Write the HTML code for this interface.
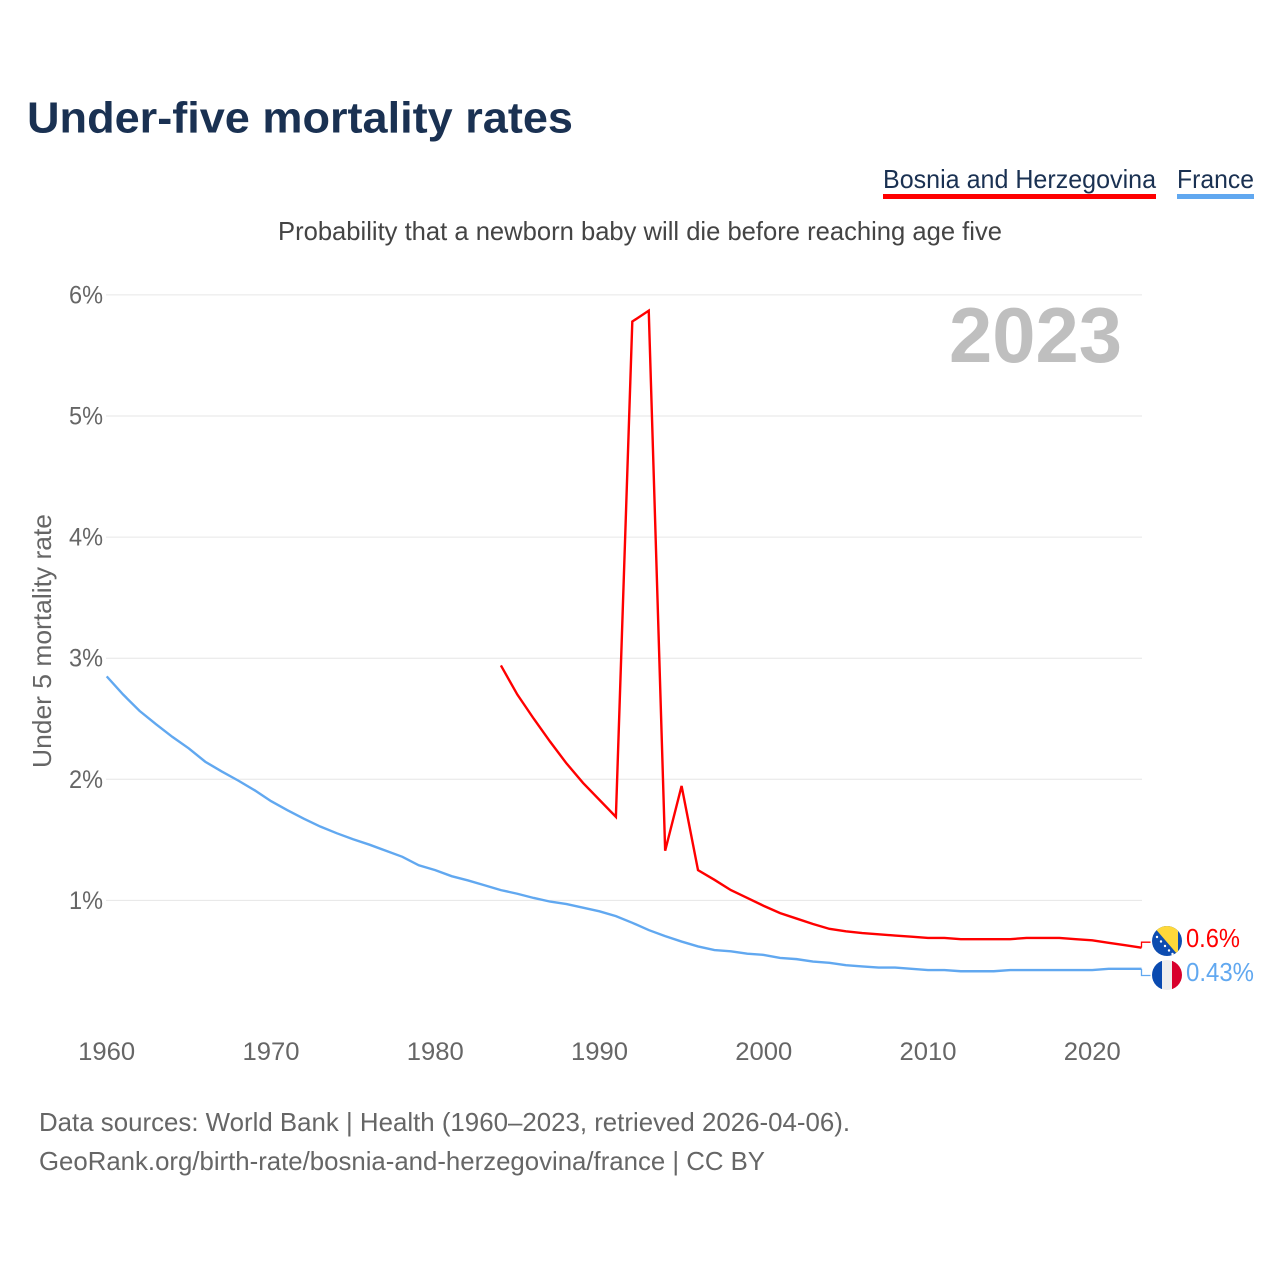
<!DOCTYPE html>
<html lang="en">
<head>
<meta charset="utf-8">
<title>Under-five mortality rates</title>
<style>
html,body{margin:0;padding:0;background:#fff;}
svg{display:block;font-family:"Liberation Sans",sans-serif;}
</style>
</head>
<body>
<svg id="chart" xmlns="http://www.w3.org/2000/svg" width="1280" height="1280" viewBox="0 0 1280 1280">
<rect x="0" y="0" width="1280" height="1280" fill="#fff"/>
<text x="27" y="132.500" font-size="44" font-weight="bold" fill="#1a3152" textLength="546" lengthAdjust="spacingAndGlyphs">Under-five mortality rates</text>
<g>
<text x="883" y="188" font-size="26" fill="#1a3152" textLength="273" lengthAdjust="spacingAndGlyphs">Bosnia and Herzegovina</text>
<rect x="883" y="194" width="273" height="5" fill="#ff0000"/>
</g>
<g>
<text x="1177" y="188" font-size="26" fill="#1a3152" textLength="77" lengthAdjust="spacingAndGlyphs">France</text>
<rect x="1177" y="194" width="77" height="5" fill="#61a8f0"/>
</g>
<text x="278" y="240" font-size="26" fill="#444" textLength="724" lengthAdjust="spacingAndGlyphs">Probability that a newborn baby will die before reaching age five</text>
<g id="grid"></g>
<text x="949" y="362" font-size="78" font-weight="bold" fill="#bfbfbf" textLength="173" lengthAdjust="spacingAndGlyphs">2023</text>
<g id="yticks"></g>
<g id="xticks"></g>
<text transform="translate(51,768) rotate(-90)" x="0" y="0" font-size="26" fill="#666" textLength="254" lengthAdjust="spacingAndGlyphs">Under 5 mortality rate</text>
<g id="series"></g>
<defs>
<clipPath id="clip-ba"><circle cx="1167" cy="941" r="15"/></clipPath>
<clipPath id="clip-fr"><circle cx="1167" cy="975" r="15"/></clipPath>
</defs>
<g clip-path="url(#clip-ba)">
<rect x="1152" y="926" width="30" height="30" fill="#0e4db0"/>
<polygon points="1153,926 1178,926 1178,955" fill="#fed83a"/>
<g fill="#fff">
<circle cx="1157" cy="937" r="1.200"/><circle cx="1161" cy="941.500" r="1.200"/><circle cx="1165" cy="946" r="1.200"/><circle cx="1169" cy="950.500" r="1.200"/><circle cx="1172.500" cy="954" r="1.200"/>
</g>
</g>
<g clip-path="url(#clip-fr)">
<rect x="1152" y="960" width="10" height="30" fill="#0a4ab0"/>
<rect x="1162" y="960" width="10" height="30" fill="#eeeeee"/>
<rect x="1172" y="960" width="10" height="30" fill="#d8002c"/>
</g>
<text x="1186" y="947" font-size="26" fill="#ff0000" textLength="54" lengthAdjust="spacingAndGlyphs">0.6%</text>
<text x="1186" y="981" font-size="26" fill="#61a8f0" textLength="68" lengthAdjust="spacingAndGlyphs">0.43%</text>
<g>
<text x="39" y="1131" font-size="26" fill="#666" textLength="811" lengthAdjust="spacingAndGlyphs">Data sources: World Bank | Health (1960–2023, retrieved 2026-04-06).</text>
<text x="39" y="1170" font-size="26" fill="#666" textLength="726" lengthAdjust="spacingAndGlyphs">GeoRank.org/birth-rate/bosnia-and-herzegovina/france | CC BY</text>
</g>
</svg>
<script>
const yTickValues = [1, 2, 3, 4, 5, 6];
const xTickYears = [1960, 1970, 1980, 1990, 2000, 2010, 2020];
const franceStartYear = 1960;
const franceValues = [2.85,2.70,2.565,2.455,2.35,2.255,2.145,2.065,1.99,1.91,1.82,1.745,1.675,1.61,1.555,1.505,1.46,1.41,1.36,1.29,1.25,1.20,1.165,1.125,1.085,1.055,1.02,0.99,0.97,0.94,0.91,0.87,0.815,0.755,0.705,0.66,0.62,0.59,0.58,0.56,0.55,0.525,0.515,0.495,0.485,0.465,0.455,0.445,0.445,0.435,0.425,0.425,0.415,0.415,0.415,0.425,0.425,0.425,0.425,0.425,0.425,0.435,0.435,0.435];
const bosniaStartYear = 1984;
const bosniaValues = [2.94,2.70,2.50,2.31,2.13,1.97,1.83,1.69,5.78,5.87,1.41,1.945,1.25,1.17,1.085,1.02,0.955,0.895,0.85,0.805,0.765,0.745,0.73,0.72,0.71,0.70,0.69,0.69,0.68,0.68,0.68,0.68,0.69,0.69,0.69,0.68,0.67,0.65,0.63,0.61];
const bosniaLabelValue = 0.655;
const franceLabelValue = 0.38;

const xScale = year => 106.7 + (year - 1960) * (1141.5 - 106.7) / 63;
const yScale = value => 1021.5 - value * 121.1;
const NS = 'http://www.w3.org/2000/svg';

const grid = document.getElementById('grid');
const yticks = document.getElementById('yticks');
const xticks = document.getElementById('xticks');
const series = document.getElementById('series');

yTickValues.forEach(v => {
  const line = document.createElementNS(NS, 'line');
  
  
  line.setAttribute('x1', 106);
  line.setAttribute('x2', 1142);
  line.setAttribute('y1', yScale(v));
  line.setAttribute('y2', yScale(v));
  line.setAttribute('stroke', '#e6e6e6');
  line.setAttribute('stroke-width', '1');
  grid.appendChild(line);
  const t = document.createElementNS(NS, 'text');
  
  
  t.setAttribute('x', 103);
  t.setAttribute('y', yScale(v) + 8.5);
  t.setAttribute('text-anchor', 'end');
  t.setAttribute('font-size', '25');
  t.setAttribute('textLength', '34');
  t.setAttribute('lengthAdjust', 'spacingAndGlyphs');
  t.setAttribute('fill', '#666');
  t.textContent = v + '%';
  yticks.appendChild(t);
});

xTickYears.forEach(y => {
  const t = document.createElementNS(NS, 'text');
  
  
  t.setAttribute('x', xScale(y));
  t.setAttribute('y', 1060);
  t.setAttribute('text-anchor', 'middle');
  t.setAttribute('font-size', '25');
  t.setAttribute('textLength', '57');
  t.setAttribute('lengthAdjust', 'spacingAndGlyphs');
  t.setAttribute('fill', '#666');
  t.textContent = y;
  xticks.appendChild(t);
});

function drawSeries(values, startYear, color, name) {
  const pts = values.map((v, i) => xScale(startYear + i).toFixed(2) + ',' + yScale(v).toFixed(2)).join(' ');
  const p = document.createElementNS(NS, 'polyline');
  
  
  p.setAttribute('points', pts);
  p.setAttribute('fill', 'none');
  p.setAttribute('stroke', color);
  p.setAttribute('stroke-width', '2.4');
  p.setAttribute('stroke-linejoin', 'miter');
  series.appendChild(p);
}

function drawLeader(endValue, labelValue, color, name) {
  const x = xScale(2023);
  const pts = [[x, yScale(endValue)], [x, yScale(labelValue)], [x + 9, yScale(labelValue)]].map(a => a.join(',')).join(' ');
  const p = document.createElementNS(NS, 'polyline');
  
  
  p.setAttribute('points', pts);
  p.setAttribute('fill', 'none');
  p.setAttribute('stroke', color);
  p.setAttribute('stroke-width', '1.3');
  series.appendChild(p);
}

drawSeries(franceValues, franceStartYear, '#61a8f0', 'france-line');
drawSeries(bosniaValues, bosniaStartYear, '#ff0000', 'bosnia-line');
drawLeader(bosniaValues[bosniaValues.length - 1], bosniaLabelValue, '#ff0000', 'bosnia-label-leader');
drawLeader(franceValues[franceValues.length - 1], franceLabelValue, '#61a8f0', 'france-label-leader');
</script>
</body>
</html>
